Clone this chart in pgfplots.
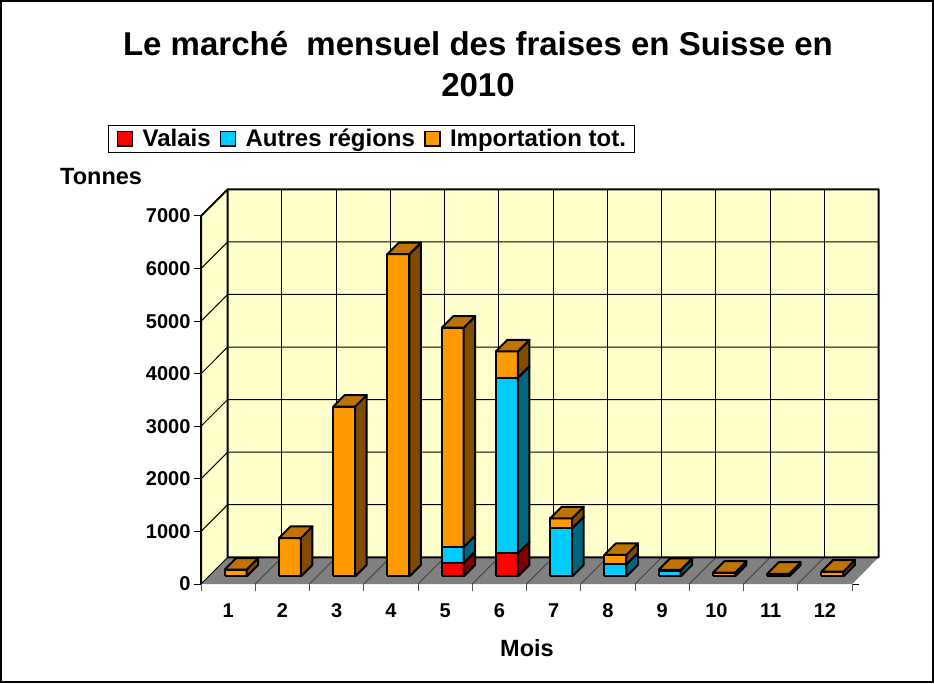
\documentclass[border=0pt]{standalone}
\usepackage{pgfplots}
\pgfplotsset{compat=1.18}
\usepackage{pgfplotstable}
\usepackage{fontspec}
\setmainfont{Liberation Sans}

\definecolor{wall}{HTML}{FFFFCC}
\definecolor{floorc}{HTML}{808080}
\definecolor{valaisF}{HTML}{FF0000}
\definecolor{valaisS}{HTML}{800000}
\definecolor{autresF}{HTML}{00CCFF}
\definecolor{autresS}{HTML}{006680}
\definecolor{importF}{HTML}{FF9900}
\definecolor{importS}{HTML}{804C00}
\definecolor{importT}{HTML}{BF7300}

% monthly tonnes
\pgfplotstableread{
m  valais autres import
1  0      0      130
2  0      0      730
3  0      0      3230
4  0      0      6130
5  260    300    4170
6  440    3340   500
7  0      915    190
8  0      230    180
9  0      110    15
10 0      0      70
11 0      0      50
12 0      0      90
}\data

% geometry of the pseudo-3D view (axis units)
\def\OX{0.14}\def\OY{145}\def\BX{0.212}\def\BY{219}\def\HW{0.203}
\def\LW{2pt}

\newcommand\frontface[3]{%
  \ifdim #2pt>#1pt\relax
    \edef\tmp{\noexpand\addplot[fill=#3,draw=black,line width=\LW,line join=round,forget plot]
      coordinates {(\xl,#1) (\xr,#1) (\xr,#2) (\xl,#2) (\xl,#1)};}%
    \tmp
  \fi}
\newcommand\sideface[3]{%
  \ifdim #2pt>#1pt\relax
    \pgfmathsetmacro\xrb{\xr+\BX}%
    \pgfmathsetmacro\yab{#1+\BY}%
    \pgfmathsetmacro\ybb{#2+\BY}%
    \edef\tmp{\noexpand\addplot[fill=#3,draw=black,line width=\LW,line join=round,forget plot]
      coordinates {(\xr,#1) (\xrb,\yab) (\xrb,\ybb) (\xr,#2) (\xr,#1)};}%
    \tmp
  \fi}
\newcommand\topface[2]{%
  \pgfmathsetmacro\xlb{\xl+\BX}%
  \pgfmathsetmacro\xrb{\xr+\BX}%
  \pgfmathsetmacro\ytb{#1+\BY}%
  \edef\tmp{\noexpand\addplot[fill=#2,draw=black,line width=\LW,line join=round,forget plot]
    coordinates {(\xl,#1) (\xr,#1) (\xrb,\ytb) (\xlb,\ytb) (\xl,#1)};}%
  \tmp}

\begin{document}
\begin{tikzpicture}[x=1pt,y=1pt]
\path[use as bounding box] (0,0) rectangle (934,683);
\draw[line width=1.2pt] (1,1) rectangle (933,682);

\begin{axis}[
  at={(201pt,99pt)}, anchor=south west,
  scale only axis, width=651pt, height=368pt,
  xmin=0.5, xmax=12.5, ymin=0, ymax=7000,
  clip=false, axis line style={draw=none},
  xtick={1,...,12}, ytick={0,1000,...,7000},
  xtick style={draw=none},
  ytick style={draw=black, line width=1pt},
  tick align=outside, major tick length=7pt,
  /pgf/number format/assume math mode=true,
  /pgf/number format/set thousands separator={},
  ticklabel style={font=\fontsize{20}{23}\selectfont\bfseries},
  xticklabel style={anchor=base, yshift=-26pt},
  legend columns=3,
  legend style={at={(0.2616,1.2098)}, anchor=center, draw=black, line width=1pt,
    fill=white, font=\fontsize{24}{27}\selectfont\bfseries,
    inner xsep=8pt, inner ysep=4pt,
    nodes={inner sep=0pt},
    /tikz/every odd column/.append style={column sep=9.5pt},
    /tikz/every even column/.append style={column sep=9pt}},
  legend cell align=left,
]
\addlegendimage{legend image code/.code={\draw[fill=valaisF,draw=black,line width=1.5pt] (0pt,-7pt) rectangle (15pt,7.3pt);}}
\addlegendimage{legend image code/.code={\draw[fill=autresF,draw=black,line width=1.5pt] (0pt,-7pt) rectangle (15pt,7.3pt);}}
\addlegendimage{legend image code/.code={\draw[fill=importF,draw=black,line width=1.5pt] (0pt,-7pt) rectangle (15pt,7.3pt);}}
\legend{Valais, Autres régions, Importation tot.}

% walls and floor
\addplot[fill=wall, draw=none, forget plot] coordinates {(0.992,508) (12.992,508) (12.992,7508) (0.992,7508) (0.992,508)};
\addplot[fill=wall, draw=none, forget plot] coordinates {(0.5,0) (0.992,508) (0.992,7508) (0.5,7000) (0.5,0)};
\addplot[fill=floorc, draw=none, forget plot] coordinates {(0.5,0) (12.5,0) (12.992,508) (0.992,508) (0.5,0)};
% grid on walls
\pgfplotsinvokeforeach{1000,2000,3000,4000,5000,6000}{
  \pgfmathsetmacro\gy{#1+508}
  \edef\tmp{\noexpand\addplot[black, line width=1pt, forget plot] coordinates {(0.5,#1) (0.992,\gy) (12.992,\gy)};}\tmp
}
\pgfplotsinvokeforeach{1.992,2.992,3.992,4.992,5.992,6.992,7.992,8.992,9.992,10.992,11.992}{
  \addplot[black, line width=1pt, forget plot] coordinates {(#1,508) (#1,7508)};
}
\pgfplotsinvokeforeach{1,2,3,4,5,6,7,8,9,10,11}{
  \pgfmathsetmacro\fa{#1+0.5}\pgfmathsetmacro\fb{#1+0.992}
  \edef\tmp{\noexpand\addplot[black!75, line width=0.9pt, forget plot] coordinates {(\fa,0) (\fb,508)};}\tmp
}
\addplot[black, line width=1pt, forget plot] coordinates {(0.5,0) (0.992,508)};
\addplot[black, line width=2pt, line join=round, forget plot] coordinates {(0.5,0) (0.5,7000) (0.992,7508) (12.992,7508) (12.992,508) (0.992,508) (0.992,7508)};

% stacked 3D bars: front, side and top faces
\pgfplotsinvokeforeach{0,1,2,3,4,5,6,7,8,9,10,11}{
  \pgfplotstablegetelem{#1}{m}\of\data \pgfmathsetmacro\M{\pgfplotsretval}
  \pgfplotstablegetelem{#1}{valais}\of\data \pgfmathsetmacro\V{\pgfplotsretval}
  \pgfplotstablegetelem{#1}{autres}\of\data \pgfmathsetmacro\A{\pgfplotsretval}
  \pgfplotstablegetelem{#1}{import}\of\data \pgfmathsetmacro\I{\pgfplotsretval}
  \pgfmathsetmacro\xr{\M+\OX+\HW}
  \pgfmathsetmacro\xl{\M+\OX-\HW}
  \pgfmathsetmacro\ya{\OY}
  \pgfmathsetmacro\yb{\ya+\V}
  \pgfmathsetmacro\yc{\yb+\A}
  \pgfmathsetmacro\yd{\yc+\I}
  \frontface{\ya}{\yb}{valaisF}
  \frontface{\yb}{\yc}{autresF}
  \frontface{\yc}{\yd}{importF}
  \sideface{\ya}{\yb}{valaisS}
  \sideface{\yb}{\yc}{autresS}
  \sideface{\yc}{\yd}{importS}
  \topface{\yd}{importT}
}
% small ticks under the floor
\pgfplotsinvokeforeach{0.5,1.5,2.5,3.5,4.5,5.5,6.5,7.5,8.5,9.5,10.5,11.5,12.5}{
  \draw[black!65, line width=0.9pt] (axis cs:#1,0) -- ++(0pt,-7pt);
}
\end{axis}

\node[anchor=base, font=\fontsize{33}{36}\selectfont\bfseries] at (478,627.3) {Le marché\ \ mensuel des fraises en Suisse en};
\node[anchor=base, font=\fontsize{33}{36}\selectfont\bfseries] at (478,586) {2010};
\node[anchor=base west, inner sep=0pt, font=\fontsize{23.5}{26}\selectfont\bfseries] at (60,498) {Tonnes};
\node[anchor=base, inner sep=0pt, font=\fontsize{23.5}{26}\selectfont\bfseries] at (527,27) {Mois};
\end{tikzpicture}
\end{document}
